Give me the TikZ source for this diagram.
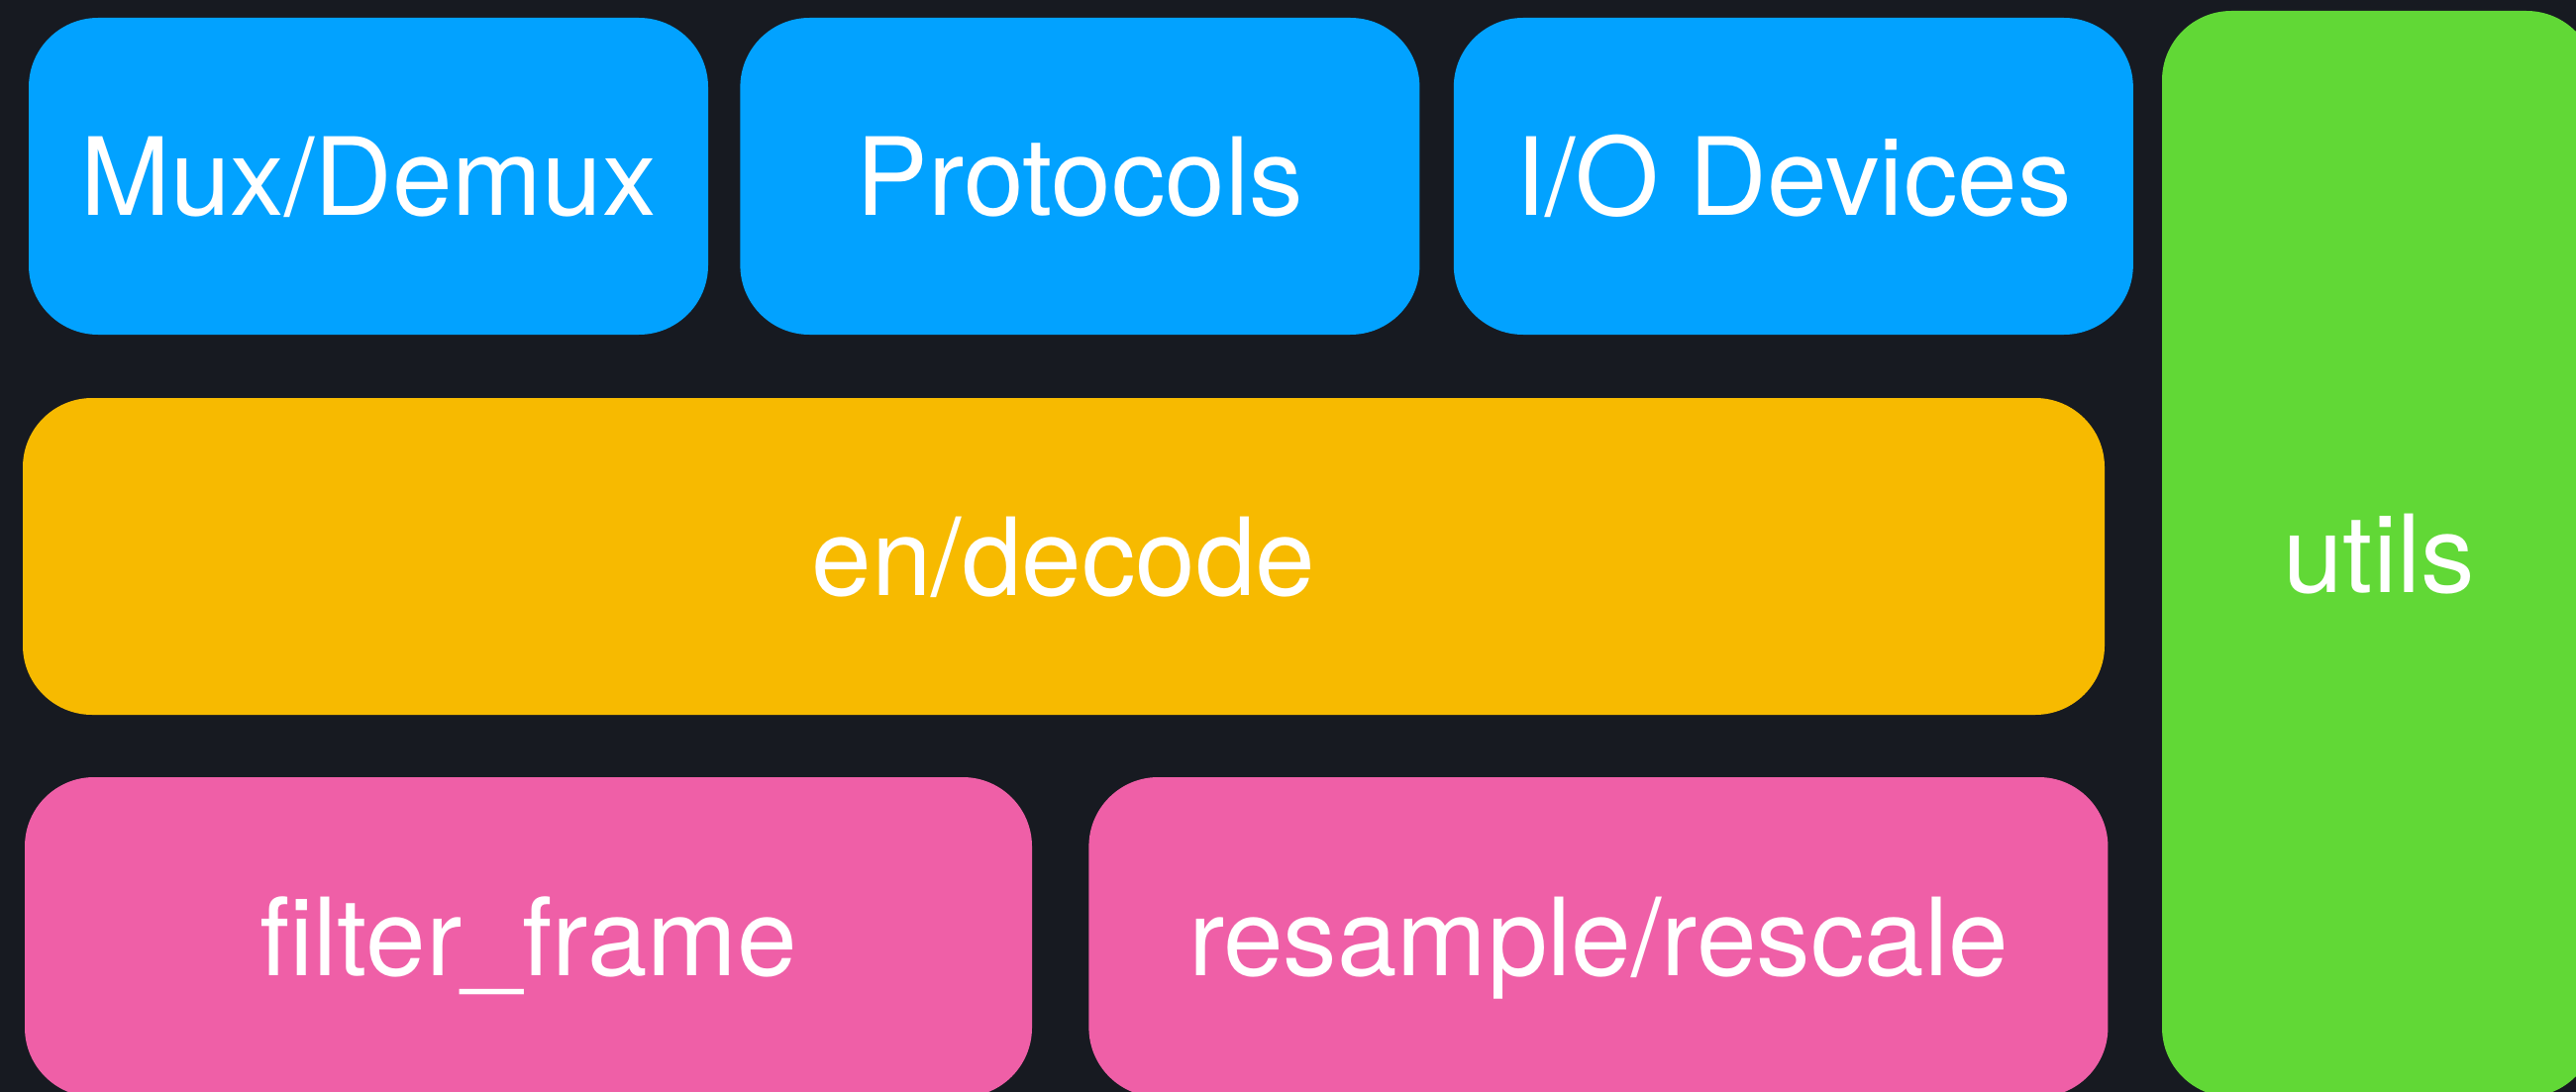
\documentclass[tikz,border=0pt]{standalone}
\usepackage{fontspec}
\setmainfont{TeX Gyre Heros}
\usetikzlibrary{positioning}
\definecolor{bgdark}{HTML}{171A21}
\definecolor{kblue}{HTML}{02A2FF}
\definecolor{kyellow}{HTML}{F7BA00}
\definecolor{kpink}{HTML}{EF5FA7}
\definecolor{kgreen}{HTML}{61D836}

\begin{document}
\begin{tikzpicture}[
    block/.style={rectangle, rounded corners=0.7cm, inner sep=0pt, text=white,
        font=\fontsize{31}{37}\selectfont, text height=22.3pt, text depth=0pt,
        minimum height=3.2cm},
    top/.style={block, fill=kblue, minimum width=6.86cm}]
    \useasboundingbox (0,0) rectangle (26.01,-11.03);
    \fill[bgdark] (0,0) rectangle (26.01,-11.03);
    \clip (0,0) rectangle (26.01,-11.03);

    % top row
    \node[top] (mux) at (3.72,-1.78) {Mux/Demux};
    \node[top, right=0.31cm of mux] (proto) {Protocols};
    \node[top, right=0.33cm of proto] (iodev) {I/O Devices};

    \node[block, fill=kyellow, minimum width=21.02cm] (codec) at (10.74,-5.62) {en/decode};

    % bottom row
    \node[block, fill=kpink, minimum width=10.17cm, minimum height=3.23cm] (filter) at (5.335,-9.465) {filter\_frame};
    \node[block, fill=kpink, minimum width=10.29cm, minimum height=3.23cm, right=0.56cm of filter] (scale) {resample/rescale};

    \node[block, fill=kgreen, minimum width=4.38cm, minimum height=10.97cm] (utils) at (24.02,-5.595) {utils};
\end{tikzpicture}
\end{document}
